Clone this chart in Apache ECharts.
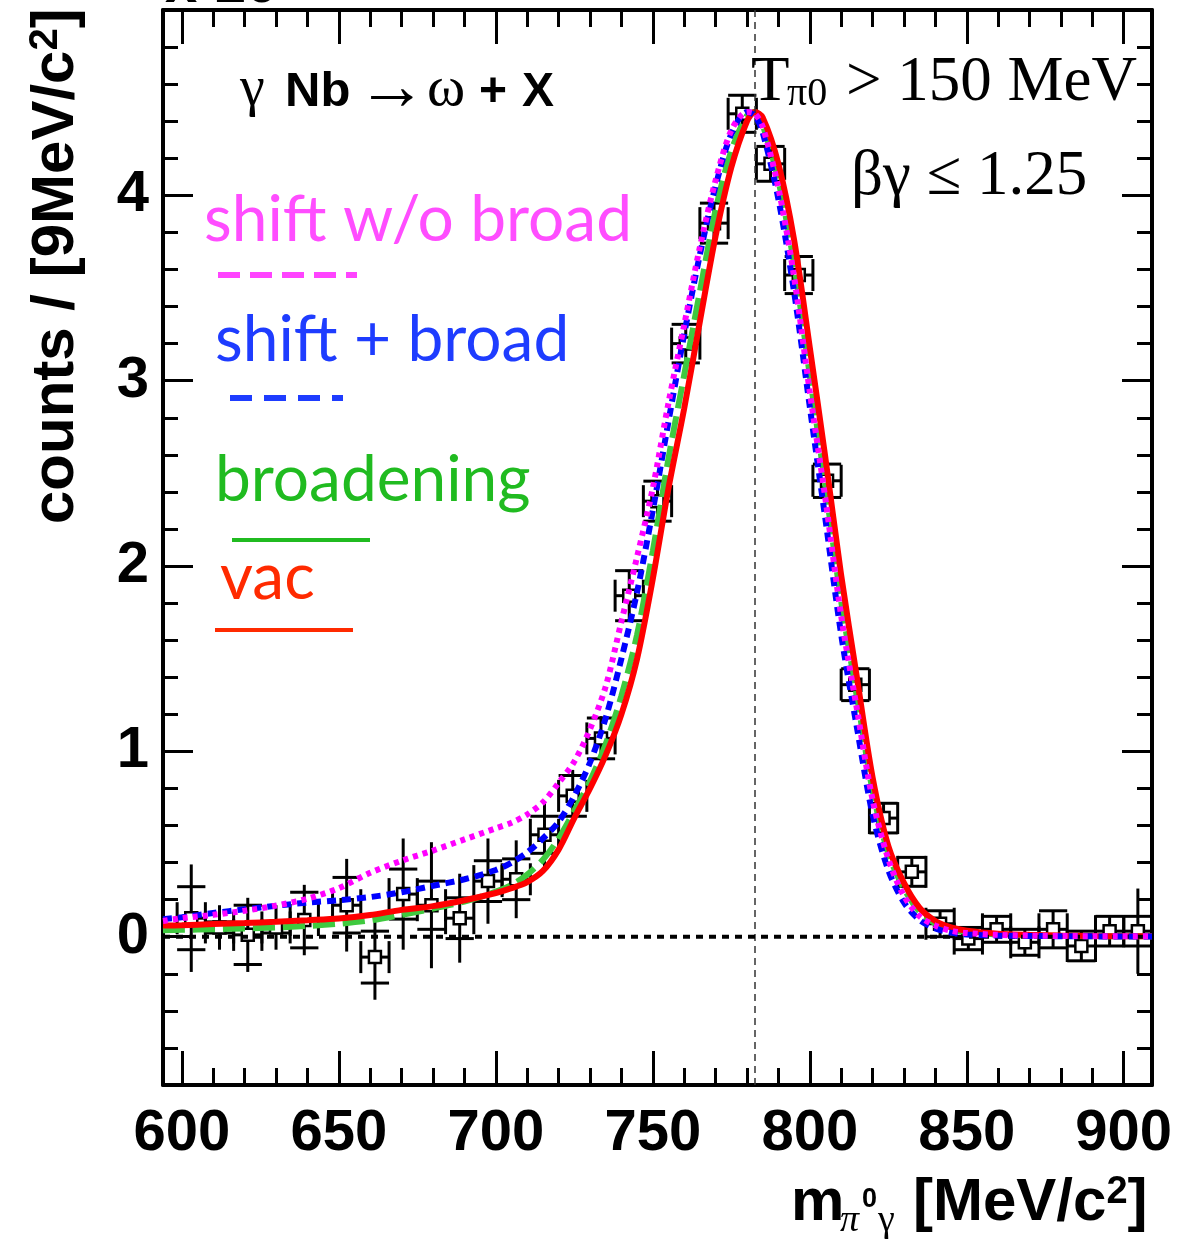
<!DOCTYPE html>
<html><head><meta charset="utf-8">
<script src="https://cdn.jsdelivr.net/npm/echarts@6/dist/echarts.min.js"></script>
<style>html,body{margin:0;padding:0;background:#fff}#c{width:1194px;height:1243px}</style>
</head><body><div id="c"></div>
<script>
// ---------- data ----------
const binWidth = 9;
const omegaMass = 782.5;
const dataMass    = [603,612,621,630,639,652.5,661.5,670.5,679.5,688.5,697.5,706.5,715.5,724.5,733.5,742.5,751.5,760.5,769.5,778.5,787.5,796.5,805.5,814.5,823.5,832.5,841.5,850.5,859.5,868.5,877.5,886.5,895.5,904.5];
const dataCounts  = [0.10,0.05,0.01,0.05,0.09,0.17,-0.11,0.23,0.17,0.10,0.30,0.31,0.55,0.76,1.07,1.84,2.35,3.20,3.85,4.44,4.17,3.57,2.46,1.36,0.64,0.35,0.07,-0.01,0.04,-0.03,0.04,-0.05,0.03,0.03];
const dataErrStat = [0.17,0.03,0.16,0.03,0.15,0.15,0.14,0.135,0.13,0.11,0.11,0.11,0.10,0.11,0.11,0.135,0.108,0.104,0.108,0.10,0.094,0.10,0.09,0.086,0.08,0.078,0.07,0.06,0.07,0.07,0.10,0.08,0.08,0.08];
const dataErrTot  = [0.29,0.12,0.20,0.12,0.19,0.25,0.23,0.30,0.34,0.24,0.23,0.21,0.18,0.14,0.12,0.135,0.108,0.104,0.108,0.10,0.094,0.10,0.09,0.086,0.08,0.078,0.07,0.06,0.07,0.07,0.10,0.08,0.08,0.23];

const curveMass = [594,600,610,620,630,640,650,660,670,680,690,700,705,710,715,720,725,730,735,740,745,750,755,760,765,770,775,780,782.5,785,790,795,800,805,810,815,820,825,830,835,840,845,850,860,870,880,890,909];
const vacCurve  = [0.060,0.062,0.068,0.074,0.081,0.089,0.098,0.117,0.145,0.165,0.197,0.236,0.262,0.295,0.355,0.47,0.64,0.80,0.98,1.20,1.50,1.93,2.42,2.85,3.32,3.78,4.15,4.40,4.45,4.42,4.17,3.76,3.18,2.58,1.95,1.40,0.86,0.49,0.29,0.155,0.085,0.050,0.032,0.016,0.010,0.006,0.004,0.002];
const broadCurve= [0.035,0.037,0.040,0.045,0.050,0.058,0.070,0.088,0.118,0.152,0.190,0.243,0.28,0.335,0.415,0.53,0.68,0.84,1.04,1.30,1.63,2.08,2.58,3.03,3.48,3.92,4.24,4.43,4.45,4.38,4.08,3.63,3.03,2.43,1.81,1.30,0.79,0.45,0.26,0.135,0.072,0.040,0.025,0.012,0.007,0.004,0.003,0.002];
const shiftBroadCurve = [0.095,0.105,0.128,0.148,0.167,0.184,0.197,0.214,0.24,0.275,0.31,0.36,0.40,0.455,0.53,0.62,0.76,0.94,1.18,1.50,1.86,2.30,2.78,3.25,3.68,4.05,4.33,4.45,4.43,4.34,3.98,3.48,2.86,2.25,1.63,1.13,0.66,0.36,0.185,0.09,0.045,0.022,0.012,0.006,0.004,0.003,0.002,0.001];
const shiftCurve = [0.085,0.10,0.118,0.14,0.168,0.205,0.262,0.345,0.41,0.465,0.525,0.585,0.615,0.66,0.725,0.83,0.945,1.12,1.35,1.70,2.05,2.42,2.88,3.30,3.72,4.08,4.35,4.45,4.44,4.37,4.04,3.56,2.94,2.36,1.73,1.23,0.74,0.42,0.22,0.11,0.06,0.032,0.02,0.01,0.006,0.004,0.003,0.003];

const xMajorTicks = [600,650,700,750,800,850,900];
const xMinorTicks = [600,610,620,630,640,650,660,670,680,690,700,710,720,730,740,750,760,770,780,790,800,810,820,830,840,850,860,870,880,890,900];
const yMajorTicks = [0,1,2,3,4];
const yMinorTicks = [-0.8,-0.6,-0.4,-0.2,0,0.2,0.4,0.6,0.8,1,1.2,1.4,1.6,1.8,2,2.2,2.4,2.6,2.8,3,3.2,3.4,3.6,3.8,4,4.2,4.4,4.6,4.8];
const xRange = [594, 909];
const yRange = [-0.8, 5.0];

// ---------- helpers ----------
const SANS = 'Liberation Sans', SERIF = 'Liberation Serif', GILL = 'Lato';
const zip = (a, b) => a.map((v, i) => [v, b[i]]);
function T(text, left, baseline, size, family, color, extra, elExtra) {
  return Object.assign({
    type: 'text', x: left, y: baseline - 0.31 * size, z: 100,
    style: Object.assign({
      text: text, fontSize: size, fontFamily: family, fontWeight: 'normal',
      fill: color || '#000', align: 'left', textAlign: 'left',
      verticalAlign: 'middle', textVerticalAlign: 'middle'
    }, extra || {})
  }, elExtra || {});
}
function L(x1, y1, x2, y2, color, width, dash) {
  return { type: 'line', z: 100, shape: { x1, y1, x2, y2 },
    style: { stroke: color, lineWidth: width, lineDash: dash || null } };
}

const chart = echarts.init(document.getElementById('c'), null, { renderer: 'canvas' });

function mkX(pos, ticks, len, line, labels) {
  return {
    type: 'value', min: xRange[0], max: xRange[1], position: pos,
    axisLine: { show: line, onZero: false, lineStyle: { color: '#000', width: 4 } },
    axisTick: { show: true, inside: true, length: len, customValues: ticks, lineStyle: { color: '#000', width: 3 } },
    axisLabel: labels ? { show: true, customValues: ticks, fontSize: 58, fontWeight: 'bold', fontFamily: SANS, color: '#000', margin: 20 } : { show: false },
    splitLine: { show: false }, minorTick: { show: false }
  };
}
function mkY(pos, ticks, len, line, labels) {
  return {
    type: 'value', min: yRange[0], max: yRange[1], position: pos,
    axisLine: { show: line, onZero: false, lineStyle: { color: '#000', width: 4 } },
    axisTick: { show: true, inside: true, length: len, customValues: ticks, lineStyle: { color: '#000', width: 3 } },
    axisLabel: labels ? { show: true, customValues: ticks, fontSize: 58, fontWeight: 'bold', fontFamily: SANS, color: '#000', margin: 14 } : { show: false },
    splitLine: { show: false }, minorTick: { show: false }
  };
}

const dataItems = dataMass.map((m, i) => [m, dataCounts[i], dataErrStat[i], dataErrTot[i]]);

const option = {
  animation: false,
  backgroundColor: '#fff',
  grid: { left: 163, top: 10, right: 42, bottom: 158, containLabel: false },
  xAxis: [
    mkX('bottom', xMajorTicks, 34, true, true),
    mkX('bottom', xMinorTicks, 17, false, false),
    mkX('top', xMajorTicks, 34, true, false),
    mkX('top', xMinorTicks, 17, false, false)
  ],
  yAxis: [
    mkY('left', yMajorTicks, 30, true, true),
    mkY('left', yMinorTicks, 15, false, false),
    mkY('right', yMajorTicks, 30, true, false),
    mkY('right', yMinorTicks, 15, false, false)
  ],
  series: [
    {
      type: 'custom', name: 'data', xAxisIndex: 0, yAxisIndex: 0, z: 2,
      data: dataItems,
      renderItem: function (params, api) {
        const x = api.value(0), v = api.value(1), st = api.value(2), tot = api.value(3);
        const capPx = 16;
        const c = api.coord([x, v]);
        const l = api.coord([x - binWidth / 2, v]);
        const r = api.coord([x + binWidth / 2, v]);
        const sUp = api.coord([x, v + st]);
        const sDn = api.coord([x, v - st]);
        const tUp = api.coord([x, v + tot]);
        const tDn = api.coord([x, v - tot]);
        const st0 = { stroke: '#000', lineWidth: 3 };
        const seg = (x1, y1, x2, y2) => ({ type: 'line', shape: { x1, y1, x2, y2 }, style: st0 });
        return {
          type: 'group', children: [
            seg(c[0], tUp[1], c[0], tDn[1]),
            seg(l[0], sUp[1], r[0], sUp[1]),
            seg(l[0], sDn[1], r[0], sDn[1]),
            seg(l[0], c[1], r[0], c[1]),
            seg(l[0], c[1] - capPx, l[0], c[1] + capPx),
            seg(r[0], c[1] - capPx, r[0], c[1] + capPx),
            { type: 'rect', shape: { x: c[0] - 6, y: c[1] - 6, width: 12, height: 12 },
              style: { fill: '#fff', stroke: '#000', lineWidth: 2.5 } }
          ]
        };
      }
    },
    {
      type: 'line', name: 'broadening', data: zip(curveMass, broadCurve), z: 3,
      showSymbol: false, symbol: 'none', smooth: 0.3,
      lineStyle: { color: '#3fc93f', width: 6, type: [22, 8] }
    },
    {
      type: 'line', name: 'vac', data: zip(curveMass, vacCurve), z: 4,
      showSymbol: false, symbol: 'none', smooth: 0.3,
      lineStyle: { color: '#ff0000', width: 6 }
    },
    {
      type: 'line', name: 'zero', data: [[xRange[0], 0], [xRange[1], 0]], z: 5,
      showSymbol: false, symbol: 'none',
      lineStyle: { color: '#000', width: 4, type: [7, 6] },
      markLine: {
        silent: true, symbol: 'none', label: { show: false },
        lineStyle: { color: '#333', width: 1.5, type: [7, 5] },
        data: [{ xAxis: omegaMass }]
      }
    },
    {
      type: 'line', name: 'shift + broad', data: zip(curveMass, shiftBroadCurve), z: 6,
      showSymbol: false, symbol: 'none', smooth: 0.3,
      lineStyle: { color: '#0000ff', width: 6, type: [9, 6] }
    },
    {
      type: 'line', name: 'shift w/o broad', data: zip(curveMass, shiftCurve), z: 7,
      showSymbol: false, symbol: 'none', smooth: 0.3,
      lineStyle: { color: '#ff00ff', width: 6, type: [5, 5] }
    }
  ],
  graphic: [
    // y axis title
    { type: 'text', x: 56, y: 524, rotation: Math.PI / 2, z: 100,
      style: { text: '{a|counts / [9MeV/c}{s|2}{a|]}', align: 'left', textAlign: 'left',
        verticalAlign: 'middle', textVerticalAlign: 'middle', fill: '#000',
        rich: {
          a: { fontSize: 60, fontWeight: 'bold', fontFamily: SANS, fill: '#000' },
          s: { fontSize: 40, fontWeight: 'bold', fontFamily: SANS, fill: '#000', verticalAlign: 'top' }
        } } },
    // x axis title
    T('m', 791, 1222, 60, SANS, '#000', { fontWeight: 'bold' }),
    T('π', 840, 1233, 38, SERIF, '#000', { fontStyle: 'italic' }),
    T('0', 862, 1208, 27, SANS, '#000', { fontWeight: 'bold' }),
    T('γ', 878, 1233, 38, SERIF, '#000'),
    { type: 'text', x: 913, y: 1222 - 0.31 * 60, z: 100,
      style: { text: '{a|[MeV/c}{s|2}{a|]}', align: 'left', textAlign: 'left',
        verticalAlign: 'middle', textVerticalAlign: 'middle', fill: '#000',
        rich: {
          a: { fontSize: 60, fontWeight: 'bold', fontFamily: SANS, fill: '#000' },
          s: { fontSize: 38, fontWeight: 'bold', fontFamily: SANS, fill: '#000', verticalAlign: 'top' }
        } } },
    // top-left exponent (cut off by the page edge)
    T('x 10', 165, 4, 58, SANS, '#000', { fontWeight: 'bold' }),
    // reaction
    T('γ', 240, 108, 56, SERIF, '#000'),
    T('Nb', 285, 108, 49, SANS, '#000', { fontWeight: 'bold' }),
    T('→', 357, 112, 70, SERIF, '#000'),
    T('ω', 427, 108, 58, SERIF, '#000'),
    T('+', 479, 108, 48, SANS, '#000', { fontWeight: 'bold' }),
    T('X', 522, 108, 48, SANS, '#000', { fontWeight: 'bold' }),
    // cuts
    T('T', 751, 103, 63, SERIF, '#000'),
    T('π0', 787, 107, 40, SERIF, '#000'),
    T('> 150 MeV', 846, 103, 63, SERIF, '#000'),
    T('βγ ≤ 1.25', 851, 197, 63, SERIF, '#000'),
    // legend
    T('shift w/o broad', 204, 240, 64, GILL, '#ff4dff'),
    L(218, 275, 357, 275, '#ff44ff', 6, [22, 10]),
    T('shift + broad', 215, 360, 64, GILL, '#1e3cff'),
    L(230, 398, 343, 398, '#1e3cff', 6, [22, 12]),
    T('broadening', 215, 500, 64, GILL, '#20bb20'),
    L(232, 540, 370, 540, '#20bb20', 4),
    T('vac', 220, 598, 64, GILL, '#ff2a00'),
    L(215, 630, 353, 630, '#ff2a00', 4)
  ]
};
chart.setOption(option);
</script>
</body></html>
